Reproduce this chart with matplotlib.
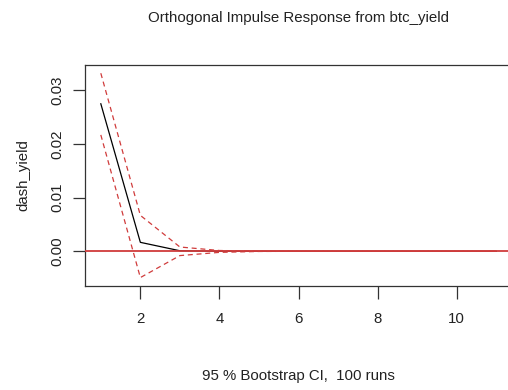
import numpy as np
from matplotlib import pyplot as plt

plt.rcParams['font.family'] = ['Liberation Sans', 'DejaVu Sans']

# impulse response horizon and values
steps = [1, 2, 3, 4, 5, 6, 7, 8, 9, 10, 11]
irf = [0.0275, 0.00167, 0.0001, 0.00001, 0.0, 0.0, 0.0, 0.0, 0.0, 0.0, 0.0]
upper = [0.0332, 0.0067, 0.0008, 0.00015, 0.00002, 0.0, 0.0, 0.0, 0.0, 0.0, 0.0]
lower = [0.0217, -0.0049, -0.0008, -0.0002, -0.00003, 0.0, 0.0, 0.0, 0.0, 0.0, 0.0]

xticks = [2, 4, 6, 8, 10]
yticks = [0.00, 0.01, 0.02, 0.03]

red = '#d03c3c'
txt = '#222222'
fs = 10.8

fig = plt.figure(figsize=(5.08, 3.90), dpi=100)
# right edge of the box falls outside the picture, as in the reference
ax = fig.add_axes([85 / 508, 104 / 390, 427 / 508, 221 / 390])

ax.plot(steps, irf, color='black', lw=0.9, zorder=2)
ax.plot(steps, upper, color=red, lw=0.9, ls=(0, (4, 3)), zorder=3)
ax.plot(steps, lower, color=red, lw=0.9, ls=(0, (4, 3)), zorder=3)
ax.axhline(0, color=red, lw=1.3, zorder=4)

ax.set_xlim(0.6, 11.4)
ax.set_ylim(-0.00647, 0.03473)
ax.set_xticks(xticks)
ax.set_xticklabels([str(t) for t in xticks])
ax.set_yticks(yticks)
ax.set_yticklabels(['%.2f' % t for t in yticks], rotation=90, va='center')

for s in ax.spines.values():
    s.set_linewidth(0.9)
    s.set_color('#333333')
ax.tick_params(direction='out', length=9, width=0.9, labelsize=fs,
               colors='#333333', labelcolor=txt)
ax.tick_params(axis='x', pad=10)
ax.tick_params(axis='y', pad=6)

ax.set_ylabel('dash_yield', fontsize=fs, color=txt, labelpad=14)
fig.text(298 / 508, 1 - 376 / 390, '95 % Bootstrap CI,  100 runs', ha='center', va='center',
         fontsize=fs, color=txt)
fig.text(298 / 508, 1 - 18 / 390, 'Orthogonal Impulse Response from btc_yield', ha='center', va='center',
         fontsize=fs, color=txt)

fig.savefig('out.png', dpi=100)
